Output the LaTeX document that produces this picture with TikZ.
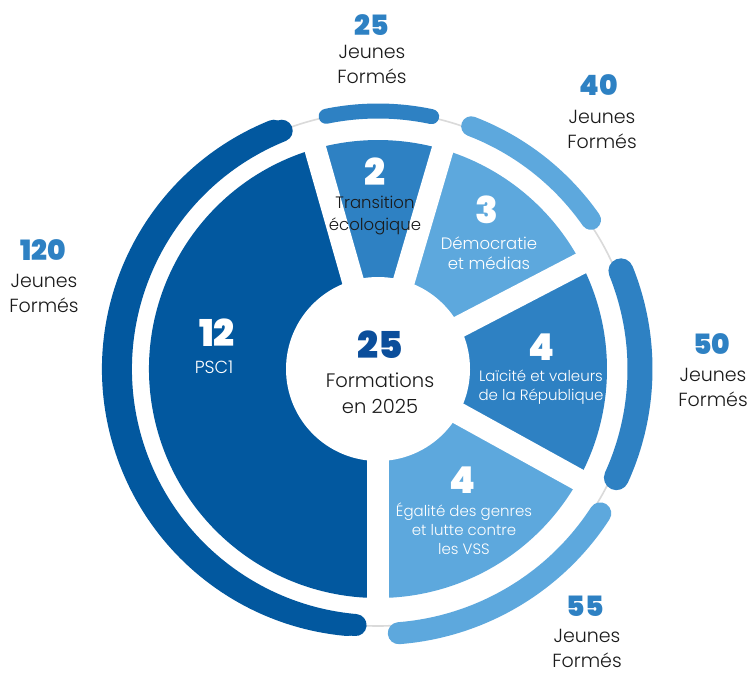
\documentclass[tikz,border=0pt]{standalone}
\usepackage{fontspec}
\IfFontExistsTF{Poppins Light}{\setmainfont{Poppins Light}}{\setmainfont{Poppins}}
\IfFontExistsTF{Poppins Black}{\newfontfamily\numf{Poppins Black}}{\newfontfamily\numf{Poppins}[FakeBold=3]}
\definecolor{dkb}{HTML}{02589F}
\definecolor{mdb}{HTML}{2E81C3}
\definecolor{ltb}{HTML}{5DA8DD}
\definecolor{ctr}{HTML}{0B4E9B}
\definecolor{txt}{HTML}{1A1A1A}
\definecolor{ring}{HTML}{DADADA}
\tikzset{
  bignum/.style={font=\numf\fontsize{28}{28}\selectfont, text=mdb, inner sep=0pt, anchor=center},
  segnum/.style={font=\numf\fontsize{37}{37}\selectfont, text=white, inner sep=0pt, anchor=center},
  jf/.style={font=\fontsize{19}{25}\selectfont, text=txt, align=center, inner sep=0pt, anchor=center},
  seglab/.style={font=\fontsize{15}{19}\selectfont, text=white, align=center, inner sep=0pt, anchor=center},
  gapband/.style={white, line width=22pt},
  outarc/.style={line cap=round},
}
\begin{document}
\begin{tikzpicture}[x=1pt,y=1pt]
\useasboundingbox (0,0) rectangle (752,-673);
\fill[white] (0,0) rectangle (752,-673);
\coordinate (C) at (378,-369);
\coordinate (C2) at (370,-369);
% ring
\draw[ring, line width=1.6pt] (C) circle[radius=257];
% sectors
\fill[dkb] (C) -- ++(105.9:229) arc[start angle=105.9, end angle=270, radius=229] -- cycle;
\fill[mdb] (C) -- ++(73.6:229) arc[start angle=73.6, end angle=105.9, radius=229] -- cycle;
\fill[ltb] (C) -- ++(27.5:229) arc[start angle=27.5, end angle=73.6, radius=229] -- cycle;
\fill[mdb] (C) -- ++(-28.9:229) arc[start angle=-28.9, end angle=27.5, radius=229] -- cycle;
\fill[ltb] (C) -- ++(-90:229) arc[start angle=-90, end angle=-28.9, radius=229] -- cycle;
% gaps
\foreach \a in {105.9,73.6,27.5,-28.9,-90}{\draw[gapband] (C) -- ++(\a:240);}
\fill[white] (C) circle[radius=92];
% outer arcs
\draw[dkb, line width=22pt, outarc] (C) ++(112:257) arc[start angle=112, end angle=265, radius=257];
\draw[dkb, line width=22pt, outarc] (C2) ++(112:257) arc[start angle=112, end angle=265, radius=257];
\draw[mdb, line width=15pt, outarc] (C) ++(78:258) arc[start angle=78, end angle=101.6, radius=258];
\draw[ltb, line width=20pt, outarc] (C) ++(35:260) arc[start angle=35, end angle=69, radius=260];
\draw[mdb, line width=25pt, outarc] (C) ++(-24.5:262) arc[start angle=-24.5, end angle=22, radius=262];
\draw[ltb, line width=22pt, outarc] (C) ++(-85.5:265) arc[start angle=-85.5, end angle=-33, radius=265];
% outer labels
\node[bignum] (n25) at (372,-25) {25};
\node[jf] (j25) at (372,-64.5) {Jeunes\\Formés};
\node[bignum] (n40) at (599,-85) {40};
\node[jf] (j40) at (602,-129.5) {Jeunes\\Formés};
\node[bignum] (n50) at (712,-344) {50};
\node[jf] (j50) at (713,-387.5) {Jeunes\\Formés};
\node[bignum] (n55) at (585,-606) {55};
\node[jf] (j55) at (587,-648) {Jeunes\\Formés};
\node[bignum] (n120) at (43,-250) {120};
\node[jf] (j120) at (44,-293.5) {Jeunes\\Formés};
% segment labels
\node[segnum] (s12) at (217,-333) {12};
\node[seglab, font=\fontsize{17.5}{21}\selectfont] (l12) at (214,-367) {PSC1};
\node[segnum] (s2) at (375,-172) {2};
\node[seglab, text=txt, font=\fontsize{16.5}{21}\selectfont] (l2) at (375,-215.5) {Transition\\écologique};
\node[segnum] (s3) at (487,-210) {3};
\node[seglab, font=\fontsize{16.5}{20}\selectfont] (l3) at (489,-253) {Démocratie\\et médias};
\node[segnum] (s4a) at (542,-347) {4};
\node[seglab, font=\fontsize{15}{19}\selectfont] (l4a) at (541,-387.5) {Laïcité et valeurs\\de la République};
\node[segnum] (s4b) at (463,-480) {4};
\node[seglab, font=\fontsize{15}{19}\selectfont] (l4b) at (464,-528.5) {Égalité des genres\\et lutte contre\\les VSS};
% centre
\node[segnum, text=ctr] (c25) at (380,-345) {25};
\node[jf, font=\fontsize{19.5}{26}\selectfont] (cl) at (380,-393.5) {Formations\\en 2025};
\end{tikzpicture}
\end{document}
